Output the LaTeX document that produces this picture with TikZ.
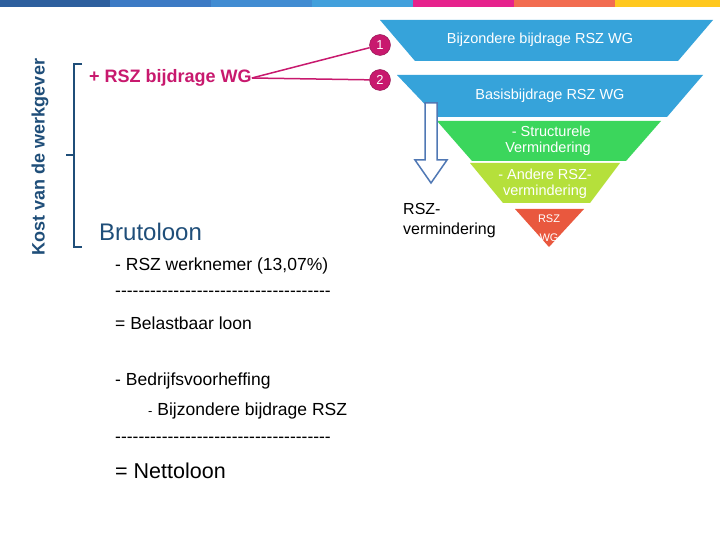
\documentclass[tikz,border=0pt]{standalone}
\usepackage{fontspec}
\setmainfont{Liberation Sans}
\definecolor{dblue}{HTML}{1F4E79}
\definecolor{lblue}{HTML}{36A3DA}
\definecolor{mag}{HTML}{C8196E}
\definecolor{grn}{HTML}{3BD65C}
\definecolor{lime}{HTML}{B5E03B}
\definecolor{red1}{HTML}{E9583E}
\definecolor{b1}{RGB}{46,95,158}
\definecolor{b2}{RGB}{60,122,196}
\definecolor{b3}{RGB}{65,140,210}
\definecolor{b4}{RGB}{66,160,220}
\definecolor{b5}{RGB}{230,34,140}
\definecolor{b6}{RGB}{242,108,80}
\definecolor{b7}{RGB}{255,200,30}
\definecolor{arr}{RGB}{80,120,180}
\tikzset{
 ltext/.style={text=white,font=\fontsize{14.5}{16}\selectfont,align=center,inner sep=0pt},
 num/.style={circle,fill=mag,draw=mag!70!black,minimum size=21pt,inner sep=0pt,text=white,font=\fontsize{13}{13}\selectfont},
 body/.style={anchor=west,font=\fontsize{17.5}{20}\selectfont}}
\begin{document}
\begin{tikzpicture}[x=1pt,y=-1pt]
\useasboundingbox (0,0) rectangle (720,540);
\fill[white] (0,0) rectangle (720,540);
\fill[b1] (0,0) rectangle (110,7);
\fill[b2] (110,0) rectangle (211,7);
\fill[b3] (211,0) rectangle (312,7);
\fill[b4] (312,0) rectangle (413,7);
\fill[b5] (413,0) rectangle (514,7);
\fill[b6] (514,0) rectangle (615,7);
\fill[b7] (615,0) rectangle (720,7);
% pyramid
\fill[lblue] (380,20) -- (713,20) -- (678,61) -- (415,61) -- cycle;
\fill[lblue] (397,75) -- (703,75) -- (667,117) -- (437,117) -- cycle;
\fill[grn] (437,121) -- (661,121) -- (626,161) -- (472,161) -- cycle;
\fill[lime] (470,163) -- (620,163) -- (590,203) -- (503,203) -- cycle;
\fill[red1] (515,209) -- (584,209) -- (549,247) -- cycle;
\node[ltext] (l1) at (540,40) {Bijzondere bijdrage RSZ WG};
\node[ltext] (l2) at (550,96) {Basisbijdrage RSZ WG};
\node[ltext,align=right] (l3) at (548,141) {- Structurele\\Vermindering};
\node[ltext] (l4) at (545,184) {- Andere RSZ-\\vermindering};
\node[ltext,font=\fontsize{11}{19}\selectfont] (l5) at (549,228) {RSZ\\WG};
% hollow arrow
\draw[arr,line width=1.5pt,fill=white] (425,103) -- (437,103) -- (437,160) -- (447,160) -- (431,183) -- (415,160) -- (425,160) -- cycle;
\node[anchor=north west,align=left,font=\fontsize{16}{20}\selectfont,inner sep=0pt] (rv) at (403,203) {RSZ-\\vermindering};
% circles
\node[num] (c1) at (380,45) {1};
\node[num] (c2) at (380,80) {2};
\node[anchor=west,text=mag,font=\bfseries\fontsize{18}{20}\selectfont,inner sep=0pt] (wg) at (89,78) {+ RSZ bijdrage WG};
\draw[mag,line width=1.5pt] (wg.east) -- (c1);
\draw[mag,line width=1.5pt] (wg.east) -- (c2);
% bracket
\draw[dblue,line width=2pt] (82,64) -- (74,64) -- (74,247) -- (82,247);
\draw[dblue,line width=2pt] (74,155) -- (66,155);
\node[rotate=90,text=dblue,font=\bfseries\fontsize{18}{20}\selectfont] (kost) at (40,157) {Kost van de werkgever};
\node[body,text=dblue,font=\fontsize{24}{26}\selectfont,inner sep=0pt] (bruto) at (99,232) {Brutoloon};
\node[body,inner sep=0pt] (t1) at (115,266) {- RSZ werknemer (13,07\%)};
\node[body,inner sep=0pt] (t2) at (115,294) {-{}-{}-{}-{}-{}-{}-{}-{}-{}-{}-{}-{}-{}-{}-{}-{}-{}-{}-{}-{}-{}-{}-{}-{}-{}-{}-{}-{}-{}-{}-{}-{}-{}-{}-{}-{}-};
\node[body,inner sep=0pt] (t3) at (115,323) {= Belastbaar loon};
\node[body,inner sep=0pt] (t4) at (115,381) {- Bedrijfsvoorheffing};
\node[body,inner sep=0pt] (t5) at (148,411) {{\fontsize{13}{14}\selectfont -} Bijzondere bijdrage RSZ};
\node[body,inner sep=0pt] (t6) at (115,440) {-{}-{}-{}-{}-{}-{}-{}-{}-{}-{}-{}-{}-{}-{}-{}-{}-{}-{}-{}-{}-{}-{}-{}-{}-{}-{}-{}-{}-{}-{}-{}-{}-{}-{}-{}-{}-};
\node[body,font=\fontsize{21.5}{23}\selectfont,inner sep=0pt] (t7) at (115,471) {= Nettoloon};
\end{tikzpicture}
\end{document}
